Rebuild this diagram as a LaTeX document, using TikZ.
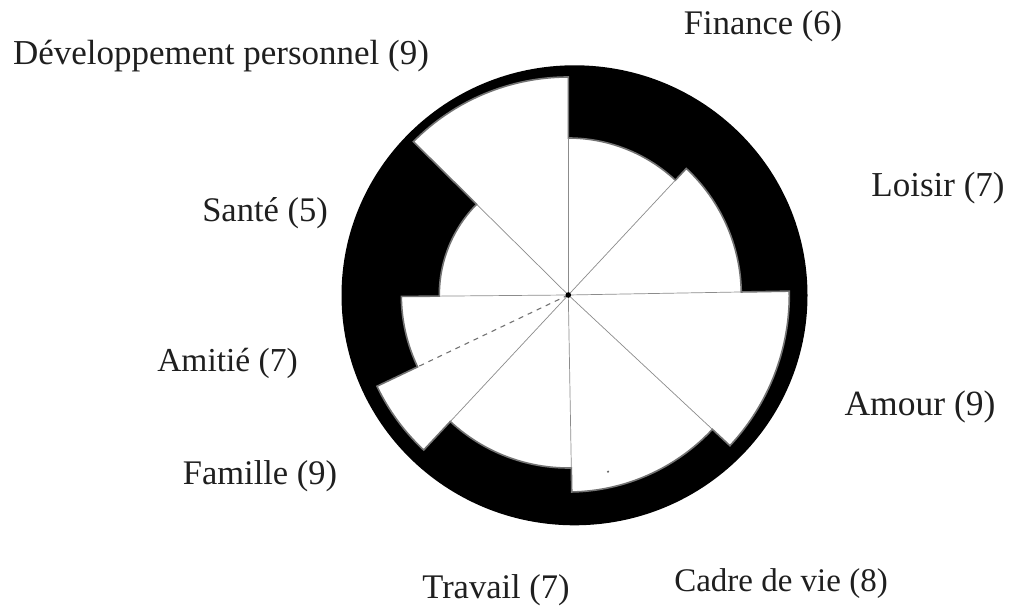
\documentclass[tikz,border=0pt]{standalone}
\usepackage{fontspec}
\setmainfont{Liberation Serif}
\begin{document}
\begin{tikzpicture}[x=1pt,y=1pt,
  lbl/.style={font=\fontsize{#1}{40}\selectfont, text=black!88, inner sep=0pt, anchor=base},
  lbl/.default=34.5,
  rim/.style={draw=black!55, line width=1.6pt, line join=miter},
  spoke/.style={draw=black!45, line width=0.7pt},
  dashspoke/.style={draw=black!55, line width=1.1pt, dash pattern=on 5pt off 5pt}]
\useasboundingbox (0,0) rectangle (1011,607);

% outer disc of the wheel
\fill[black] (574.5,311.7) ellipse [x radius=233pt, y radius=230pt];

\coordinate (c) at (568.3,312);
\begin{scope}[shift={(c)}]
  % scored areas: one slice per domain, radius = score
  \path[fill=white, rim]
    (1:173pt)     arc[start angle=1,     end angle=47,    radius=173pt]  % Loisir
    -- (47:157pt)  arc[start angle=47,    end angle=90,    radius=157pt]  % Finance
    -- (90:218pt)  arc[start angle=90,    end angle=135.3, radius=218pt]  % Developpement
    -- (135.3:129pt) arc[start angle=135.3, end angle=180.5, radius=129pt] % Sante
    -- (180.5:167pt) arc[start angle=180.5, end angle=205.5, radius=167pt] % Amitie
    -- (205.5:212pt) arc[start angle=205.5, end angle=227,   radius=212pt] % Famille
    -- (227:173pt) arc[start angle=227,   end angle=271,   radius=173pt]  % Travail
    -- (271:197pt) arc[start angle=271,   end angle=317,   radius=197pt]  % Cadre de vie
    -- (317:221pt) arc[start angle=317,   end angle=361,   radius=221pt]  % Amour
    -- cycle;
  % spokes between the domains
  \foreach \a/\r in {1/173, 47/157, 90/157, 135.3/129, 180.5/129, 227/173, 271/173, 317/197}
    \draw[spoke] (0,0) -- (\a:\r pt);
  \draw[dashspoke] (0,0) -- (205.5:167pt);
  \fill[black] (0,0) circle (2.8pt);
\end{scope}
\fill[black!60] (608,135.3) circle (1.2pt);

% domain labels
\node[lbl=35]   (dev) at (221,542)     {Développement personnel (9)};
\node[lbl]      (fin) at (763,572)     {Finance (6)};
\node[lbl=35]   (loi) at (938,410.3)   {Loisir (7)};
\node[lbl]      (san) at (265,385.3)   {Santé (5)};
\node[lbl=33.5] (ami) at (227.5,235.3) {Amitié (7)};
\node[lbl=35.5] (amo) at (920,191.3)   {Amour (9)};
\node[lbl]      (fam) at (260,122)     {Famille (9)};
\node[lbl]      (tra) at (496,8.5)     {Travail (7)};
\node[lbl=33]   (cad) at (781,15.3)    {Cadre de vie (8)};
\end{tikzpicture}
\end{document}
